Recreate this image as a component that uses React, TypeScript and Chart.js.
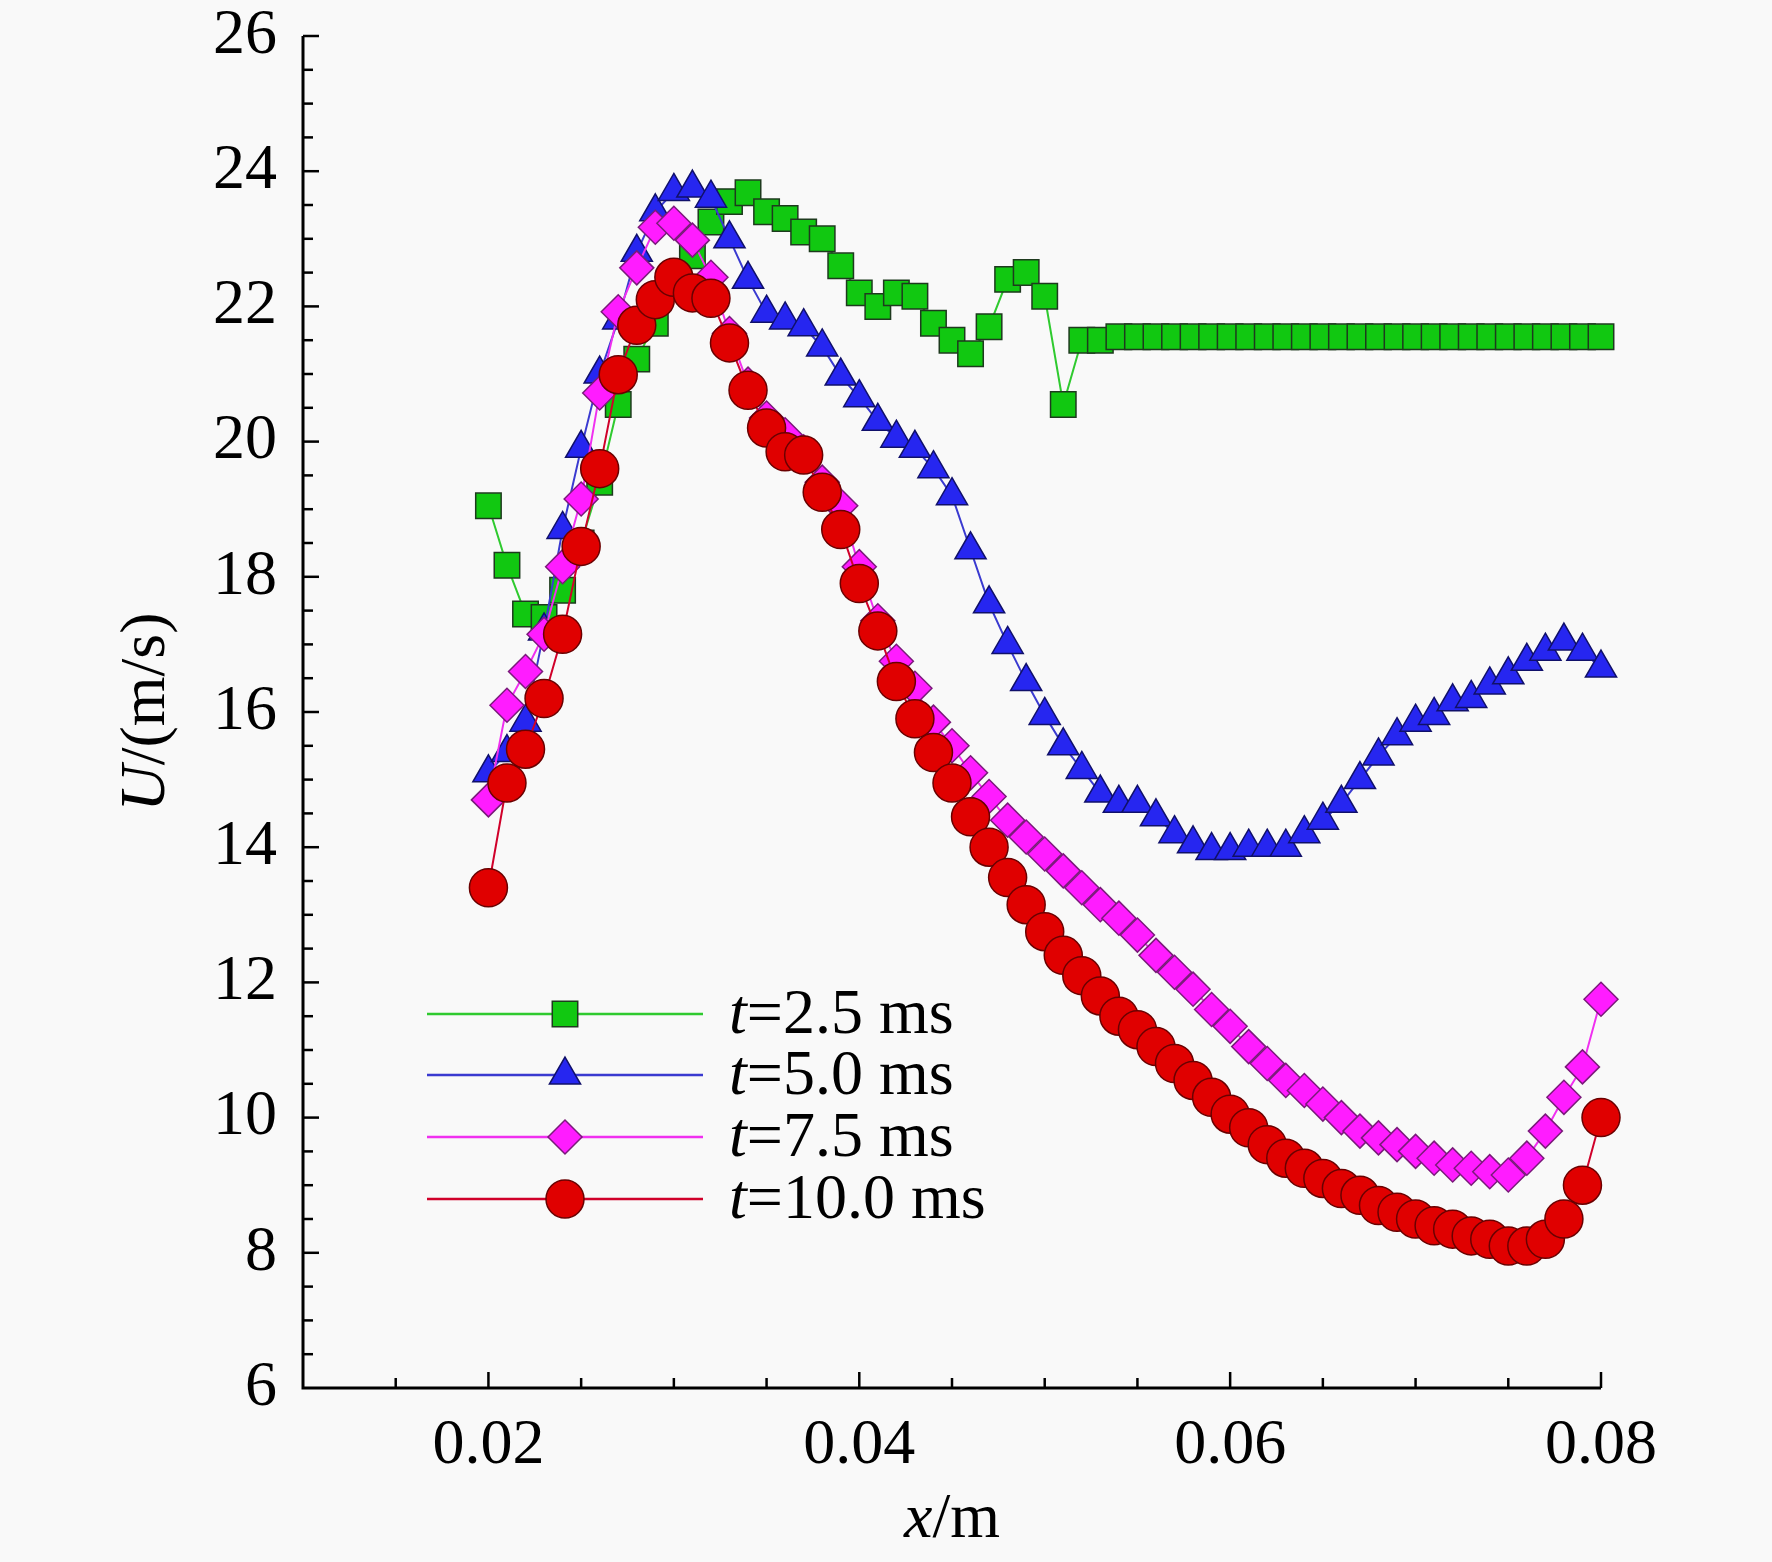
import React, { useEffect, useRef } from 'react';
import { Chart, registerables } from 'chart.js';
import { drawPoint } from 'chart.js/helpers';

Chart.register(...registerables);

const xValues = [
  0.020, 0.021, 0.022, 0.023, 0.024, 0.025, 0.026, 0.027, 0.028, 0.029,
  0.030, 0.031, 0.032, 0.033, 0.034, 0.035, 0.036, 0.037, 0.038, 0.039,
  0.040, 0.041, 0.042, 0.043, 0.044, 0.045, 0.046, 0.047, 0.048, 0.049,
  0.050, 0.051, 0.052, 0.053, 0.054, 0.055, 0.056, 0.057, 0.058, 0.059,
  0.060, 0.061, 0.062, 0.063, 0.064, 0.065, 0.066, 0.067, 0.068, 0.069,
  0.070, 0.071, 0.072, 0.073, 0.074, 0.075, 0.076, 0.077, 0.078, 0.079,
  0.080,
];

const u25 = [
  19.05, 18.17, 17.45, 17.4, 17.8, 18.5, 19.4, 20.55, 21.22, 21.75,
  22.3, 22.75, 23.25, 23.55, 23.68, 23.4, 23.3, 23.1, 23.0, 22.6,
  22.2, 22.0, 22.2, 22.15, 21.75, 21.5, 21.3, 21.7, 22.4, 22.5,
  22.15, 20.55, 21.5, 21.5, 21.55, 21.55, 21.55, 21.55, 21.55, 21.55,
  21.55, 21.55, 21.55, 21.55, 21.55, 21.55, 21.55, 21.55, 21.55, 21.55,
  21.55, 21.55, 21.55, 21.55, 21.55, 21.55, 21.55, 21.55, 21.55, 21.55,
  21.55,
];

const u50 = [
  15.1, 15.4, 15.85, 17.2, 18.7, 19.9, 21.0, 21.8, 22.8, 23.4,
  23.7, 23.75, 23.6, 23.0, 22.4, 21.9, 21.8, 21.7, 21.4, 20.97,
  20.65, 20.3, 20.05, 19.9, 19.6, 19.2, 18.4, 17.6, 17.0, 16.45,
  15.95, 15.5, 15.15, 14.8, 14.65, 14.65, 14.45, 14.2, 14.05, 13.95,
  13.95, 14.0, 14.0, 14.0, 14.2, 14.4, 14.65, 15.0, 15.35, 15.65,
  15.85, 15.95, 16.15, 16.2, 16.4, 16.55, 16.75, 16.9, 17.05, 16.9,
  16.65,
];

const u75 = [
  14.7, 16.1, 16.6, 17.15, 18.15, 19.15, 20.72, 21.92, 22.57, 23.17,
  23.23, 22.98, 22.43, 21.6, 20.85, 20.35, 20.1, 19.85, 19.4, 19.05,
  18.15, 17.35, 16.75, 16.35, 15.85, 15.5, 15.1, 14.75, 14.4, 14.15,
  13.9, 13.65, 13.4, 13.15, 12.95, 12.7, 12.4, 12.15, 11.9, 11.6,
  11.35, 11.05, 10.8, 10.55, 10.4, 10.2, 10.0, 9.8, 9.7, 9.6,
  9.5, 9.4, 9.3, 9.25, 9.2, 9.15, 9.4, 9.8, 10.3, 10.75,
  11.75,
];

const u100 = [
  13.4, 14.95, 15.45, 16.2, 17.15, 18.45, 19.6, 20.99, 21.72, 22.1,
  22.43, 22.2, 22.12, 21.46, 20.76, 20.2, 19.85, 19.8, 19.25, 18.7,
  17.9, 17.2, 16.45, 15.9, 15.4, 14.95, 14.45, 14.0, 13.55, 13.15,
  12.75, 12.4, 12.1, 11.8, 11.5, 11.3, 11.05, 10.8, 10.55, 10.3,
  10.05, 9.85, 9.6, 9.4, 9.25, 9.1, 8.95, 8.85, 8.7, 8.6,
  8.5, 8.4, 8.35, 8.25, 8.2, 8.1, 8.1, 8.2, 8.5, 9.0,
  10.0,
];

const seriesLabels = ['=2.5 ms', '=5.0 ms', '=7.5 ms', '=10.0 ms'];
const xTickValues = [0.02, 0.04, 0.06, 0.08];

const FONT = '"Liberation Serif", "Times New Roman", serif';

const styles = [
  { line: '#2fca2f', fill: '#11c811', border: '#1e3a1e', point: 'rect', radius: 18 },
  { line: '#3a3ad0', fill: '#2626f0', border: '#10106a', point: 'triangle', radius: 18 },
  { line: '#f030f0', fill: '#ff1cff', border: '#7a1a7a', point: 'rectRot', radius: 17 },
  { line: '#d0002a', fill: '#e00000', border: '#6a0000', point: 'circle', radius: 19 },
];

const overlay = {
  id: 'overlay',
  afterDraw(chart: any) {
    const { ctx, chartArea: a, scales } = chart;
    const xs = scales.x;
    const ys = scales.y;
    ctx.save();
    ctx.strokeStyle = '#000';
    ctx.lineCap = 'butt';

    // axes
    ctx.lineWidth = 3;
    ctx.beginPath();
    ctx.moveTo(a.left, a.top);
    ctx.lineTo(a.left, a.bottom);
    ctx.lineTo(a.right, a.bottom);
    ctx.stroke();

    // inward ticks
    ctx.lineWidth = 2.5;
    for (let k = 3; k <= 16; k++) {
      const v = k * 0.005;
      const px = xs.getPixelForValue(v);
      const len = k % 4 === 0 ? 16 : 10;
      ctx.beginPath();
      ctx.moveTo(px, a.bottom);
      ctx.lineTo(px, a.bottom - len);
      ctx.stroke();
    }
    for (let k = 13; k <= 52; k++) {
      const v = k * 0.5;
      const py = ys.getPixelForValue(v);
      const len = k % 4 === 0 ? 16 : 10;
      ctx.beginPath();
      ctx.moveTo(a.left, py);
      ctx.lineTo(a.left + len, py);
      ctx.stroke();
    }

    // axis titles
    ctx.fillStyle = '#000';
    ctx.textBaseline = 'middle';
    const drawMixed = (x: number, y: number, it: string, rest: string) => {
      ctx.font = `italic 64px ${FONT}`;
      const w1 = ctx.measureText(it).width;
      ctx.font = `64px ${FONT}`;
      const w2 = ctx.measureText(rest).width;
      const start = x - (w1 + w2) / 2;
      ctx.textAlign = 'left';
      ctx.font = `italic 64px ${FONT}`;
      ctx.fillText(it, start, y);
      ctx.font = `64px ${FONT}`;
      ctx.fillText(rest, start + w1, y);
    };
    drawMixed((a.left + a.right) / 2, 1520, 'x', '/m');
    ctx.save();
    ctx.translate(147, (a.top + a.bottom) / 2);
    ctx.rotate(-Math.PI / 2);
    drawMixed(0, 0, 'U', '/(m/s)');
    ctx.restore();

    // legend
    const rows = [1014, 1075, 1137, 1199];
    styles.forEach((s, i) => {
      const y = rows[i];
      ctx.strokeStyle = s.line;
      ctx.lineWidth = 2.5;
      ctx.beginPath();
      ctx.moveTo(427, y);
      ctx.lineTo(703, y);
      ctx.stroke();
      ctx.fillStyle = s.fill;
      ctx.strokeStyle = s.border;
      ctx.lineWidth = 1.5;
      drawPoint(ctx, { pointStyle: s.point, radius: s.radius, borderWidth: 1.5, rotation: 0 }, 565, y);
      ctx.fillStyle = '#000';
      ctx.textAlign = 'left';
      ctx.font = `italic 64px ${FONT}`;
      ctx.fillText('t', 729, y + 2);
      const tw = ctx.measureText('t').width;
      ctx.font = `64px ${FONT}`;
      ctx.fillText(seriesLabels[i], 729 + tw, y + 2);
    });
    ctx.restore();
  },
};

const App: React.FC = () => {
  const canvasRef = useRef<HTMLCanvasElement>(null);
  const chartRef = useRef<Chart>();

  useEffect(() => {
    document.body.style.margin = '0';
    document.body.style.background = '#f9f9f9';
    if (!canvasRef.current) return;

    const allSeries = [u25, u50, u75, u100];
    const datasets = allSeries.map((vals, i) => ({
      label: 't' + seriesLabels[i],
      data: vals.map((v, j) => ({ x: xValues[j], y: v })),
      borderColor: styles[i].line,
      borderWidth: 2,
      backgroundColor: styles[i].fill,
      pointBackgroundColor: styles[i].fill,
      pointBorderColor: styles[i].border,
      pointBorderWidth: 1.5,
      pointStyle: styles[i].point,
      pointRadius: styles[i].radius,
      pointHoverRadius: styles[i].radius,
      tension: 0,
      clip: false as any,
      order: 3 - i,
    }));

    chartRef.current = new Chart(canvasRef.current, {
      type: 'line',
      data: { datasets },
      options: {
        animation: false,
        responsive: false,
        events: [],
        layout: { padding: { left: 0, top: 36, right: 171, bottom: 0 } },
        plugins: { legend: { display: false }, tooltip: { enabled: false } },
        scales: {
          x: {
            type: 'linear',
            min: 0.01,
            max: 0.08,
            grid: { display: false, drawTicks: false },
            border: { display: false },
            afterBuildTicks: (scale: any) => {
              scale.ticks = xTickValues.map((v) => ({ value: v }));
            },
            afterFit: (scale: any) => {
              scale.height = 174;
              scale.paddingLeft = 0;
              scale.paddingRight = 0;
            },
            ticks: {
              color: '#000',
              padding: 20,
              maxRotation: 0,
              autoSkip: false,
              font: { family: FONT, size: 64 },
              callback: (v: any) => Number(v).toFixed(2),
            },
          },
          y: {
            min: 6,
            max: 26,
            grid: { display: false, drawTicks: false },
            border: { display: false },
            afterFit: (scale: any) => {
              scale.width = 303;
              scale.paddingTop = 0;
              scale.paddingBottom = 0;
            },
            ticks: {
              stepSize: 2,
              color: '#000',
              padding: 26,
              font: { family: FONT, size: 64 },
            },
          },
        },
      },
      plugins: [overlay],
    });

    return () => {
      if (chartRef.current) {
        chartRef.current.destroy();
      }
    };
  }, []);

  return (
    <div style={{ width: 1772, height: 1562, background: '#f9f9f9' }}>
      <canvas ref={canvasRef} width={1772} height={1562} />
    </div>
  );
};

export default App;
